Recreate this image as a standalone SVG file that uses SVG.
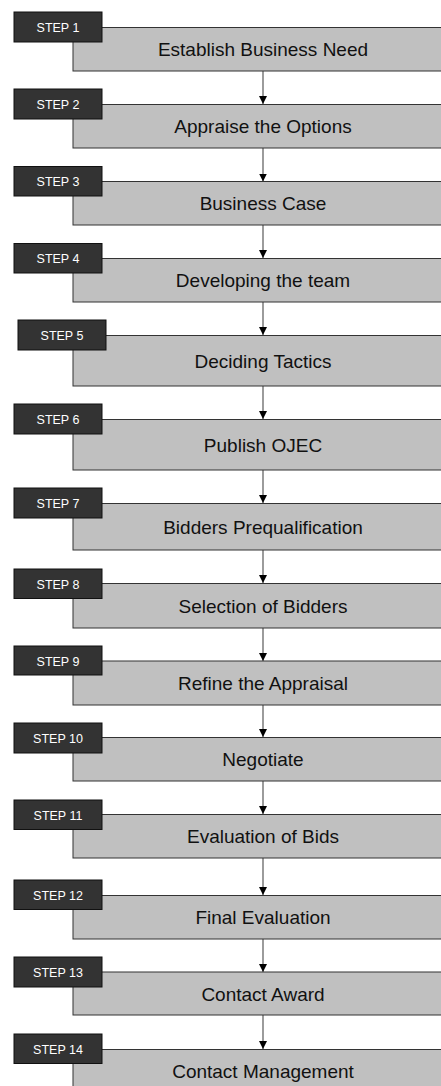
<svg xmlns="http://www.w3.org/2000/svg" width="441" height="1086" viewBox="0 0 441 1086">
<defs>
<style>
.box{fill:#c0c0c0;stroke:#333;stroke-width:1}
.tag{fill:#333;stroke:#111;stroke-width:1}
.tt{fill:#fff;font-family:"Liberation Sans",Arial,sans-serif;font-size:12.5px;text-anchor:middle}
.mt{fill:#111;font-family:"Liberation Sans",Arial,sans-serif;font-size:19px;text-anchor:middle}
.con{stroke:#666;stroke-width:1.3;fill:none;marker-end:url(#ah)}
</style>
<marker id="ah" markerUnits="userSpaceOnUse" markerWidth="8" markerHeight="8" refX="8" refY="4" orient="auto" viewBox="0 0 8 8">
<path d="M0,0 L8,4 L0,8 Z" fill="#000"/>
</marker>
</defs>
<rect width="441" height="1086" fill="#fff"/>
<g id="connectors">
<path class="con" d="M263,71 V104"/>
<path class="con" d="M263,148 V181.5"/>
<path class="con" d="M263,225 V258"/>
<path class="con" d="M263,302 V335"/>
<path class="con" d="M263,386 V419"/>
<path class="con" d="M263,470 V503"/>
<path class="con" d="M263,550 V583"/>
<path class="con" d="M263,628 V661"/>
<path class="con" d="M263,705 V737"/>
<path class="con" d="M263,781 V814"/>
<path class="con" d="M263,858 V895"/>
<path class="con" d="M263,939 V972"/>
<path class="con" d="M263,1015 V1049"/>
</g>
<g id="step1"><rect class="box" x="73" y="27.5" width="400" height="43.5"/><text class="mt" x="263" y="56">Establish Business Need</text><rect class="tag" x="14" y="12" width="88" height="30"/><text class="tt" x="58" y="32">STEP 1</text></g>
<g id="step2"><rect class="box" x="73" y="104.5" width="400" height="43.5"/><text class="mt" x="263" y="133">Appraise the Options</text><rect class="tag" x="14" y="89" width="88" height="30"/><text class="tt" x="58" y="109">STEP 2</text></g>
<g id="step3"><rect class="box" x="73" y="181.5" width="400" height="43.5"/><text class="mt" x="263" y="210">Business Case</text><rect class="tag" x="14" y="166.5" width="88" height="29.5"/><text class="tt" x="58" y="186">STEP 3</text></g>
<g id="step4"><rect class="box" x="73" y="258.5" width="400" height="43.5"/><text class="mt" x="263" y="287">Developing the team</text><rect class="tag" x="14" y="243.5" width="88" height="29.5"/><text class="tt" x="58" y="263">STEP 4</text></g>
<g id="step5"><rect class="box" x="73" y="335.5" width="400" height="50.5"/><text class="mt" x="263" y="367.5">Deciding Tactics</text><rect class="tag" x="18" y="320" width="88" height="30"/><text class="tt" x="62" y="340">STEP 5</text></g>
<g id="step6"><rect class="box" x="73" y="419.5" width="400" height="50.5"/><text class="mt" x="263" y="451.5">Publish OJEC</text><rect class="tag" x="14" y="404" width="88" height="30"/><text class="tt" x="58" y="424">STEP 6</text></g>
<g id="step7"><rect class="box" x="73" y="503.5" width="400" height="46.5"/><text class="mt" x="263" y="533.5">Bidders Prequalification</text><rect class="tag" x="14" y="488" width="88" height="30"/><text class="tt" x="58" y="508">STEP 7</text></g>
<g id="step8"><rect class="box" x="73" y="583.5" width="400" height="44.5"/><text class="mt" x="263" y="612.5">Selection of Bidders</text><rect class="tag" x="14" y="569" width="88" height="29.5"/><text class="tt" x="58" y="589">STEP 8</text></g>
<g id="step9"><rect class="box" x="73" y="661" width="400" height="44"/><text class="mt" x="263" y="689.5">Refine the Appraisal</text><rect class="tag" x="14" y="646" width="88" height="29"/><text class="tt" x="58" y="666">STEP 9</text></g>
<g id="step10"><rect class="box" x="73" y="737.5" width="400" height="43.5"/><text class="mt" x="263" y="766">Negotiate</text><rect class="tag" x="14" y="723" width="88" height="30"/><text class="tt" x="58" y="743">STEP 10</text></g>
<g id="step11"><rect class="box" x="73" y="814.5" width="400" height="43.5"/><text class="mt" x="263" y="843">Evaluation of Bids</text><rect class="tag" x="14" y="800" width="88" height="29.5"/><text class="tt" x="58" y="820">STEP 11</text></g>
<g id="step12"><rect class="box" x="73" y="895.5" width="400" height="43.5"/><text class="mt" x="263" y="924">Final Evaluation</text><rect class="tag" x="14" y="880" width="88" height="29.5"/><text class="tt" x="58" y="900">STEP 12</text></g>
<g id="step13"><rect class="box" x="73" y="972" width="400" height="43"/><text class="mt" x="263" y="1000.5">Contact Award</text><rect class="tag" x="14" y="957" width="88" height="30"/><text class="tt" x="58" y="977">STEP 13</text></g>
<g id="step14"><rect class="box" x="73" y="1049.5" width="400" height="60"/><text class="mt" x="263" y="1077.5">Contact Management</text><rect class="tag" x="14" y="1034" width="88" height="29.5"/><text class="tt" x="58" y="1054">STEP 14</text></g>
</svg>
